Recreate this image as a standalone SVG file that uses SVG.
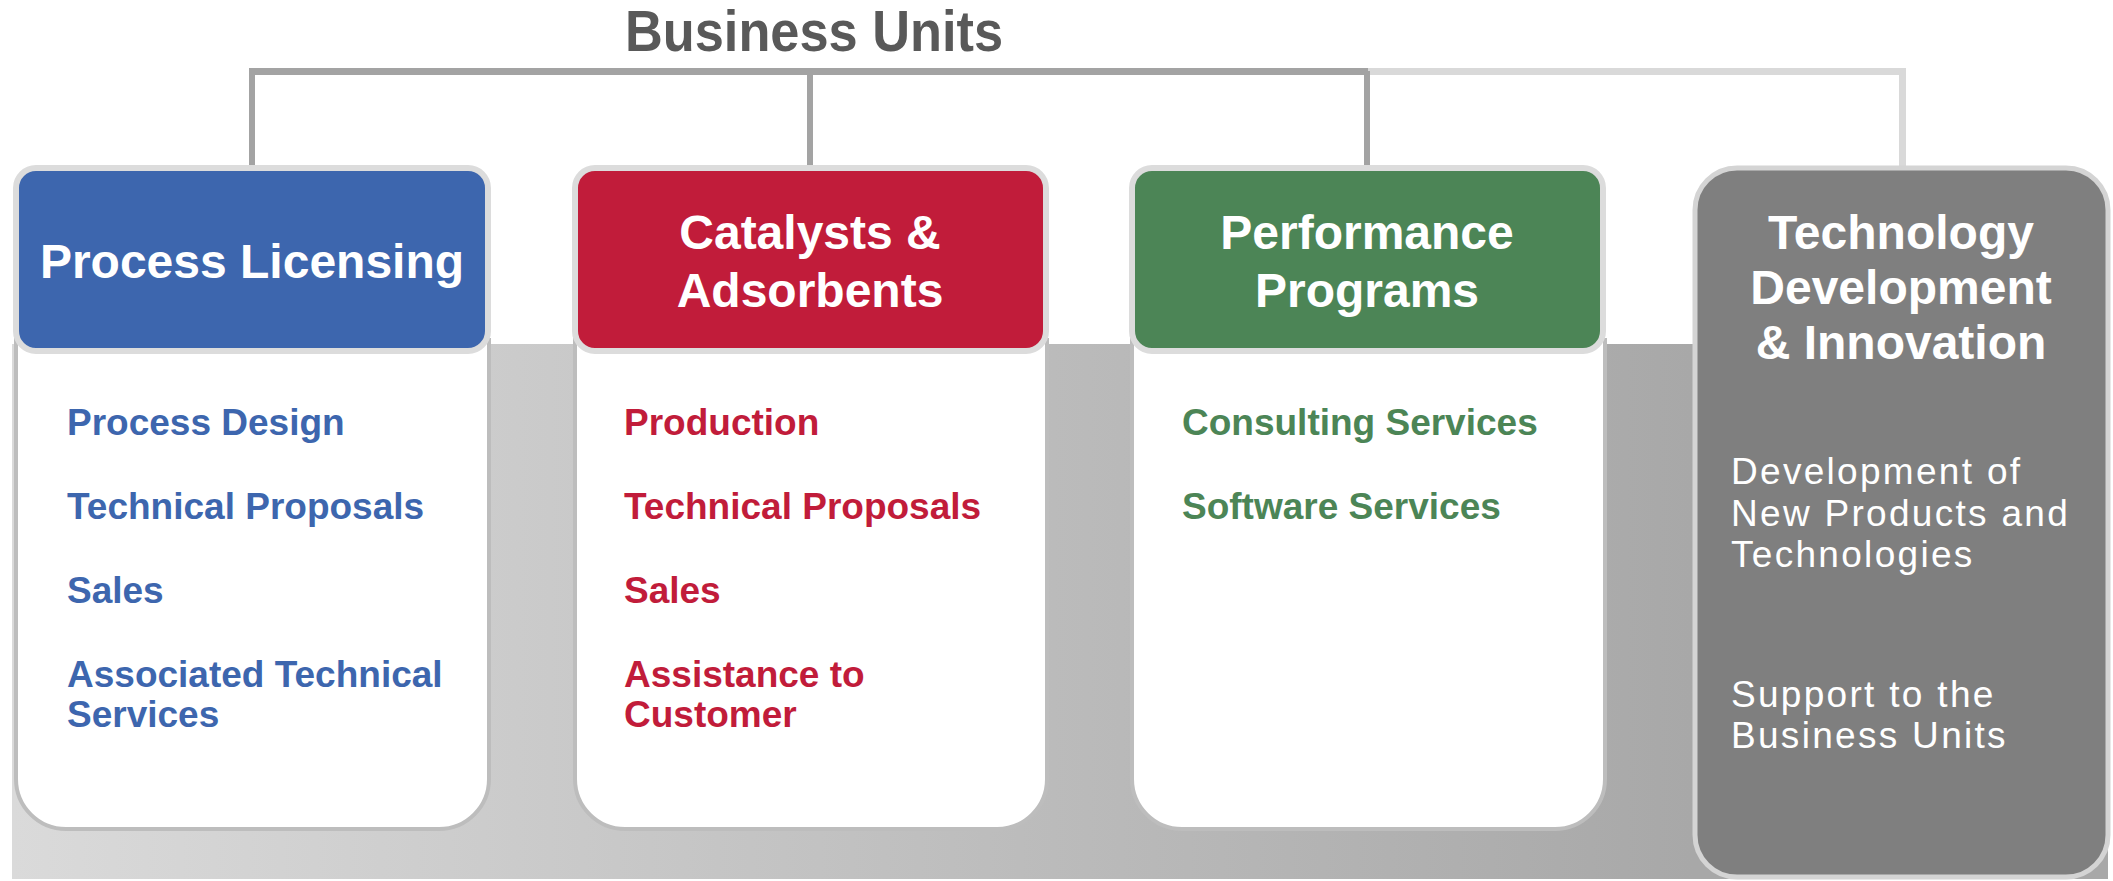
<svg xmlns="http://www.w3.org/2000/svg" width="2113" height="881" viewBox="0 0 2113 881">
<defs>
<linearGradient id="band" gradientUnits="userSpaceOnUse" x1="12" y1="0" x2="1692" y2="0">
<stop offset="0" stop-color="#dadada"/>
<stop offset="1" stop-color="#a8a8a8"/>
</linearGradient>
<style>
.title{font-family:"Liberation Sans",Arial,sans-serif;font-weight:bold;font-size:58px;fill:#595959;text-anchor:middle}
.hd{font-family:"Liberation Sans",Arial,sans-serif;font-weight:bold;font-size:48px;fill:#ffffff;text-anchor:middle}
.it{font-family:"Liberation Sans",Arial,sans-serif;font-weight:bold;font-size:37px}
.wt{font-family:"Liberation Sans",Arial,sans-serif;font-size:37px;fill:#ffffff;letter-spacing:2.3px}
.hbox{stroke:#dcdcdc;stroke-width:6}
.body{fill:#ffffff;stroke:#bdbdbd;stroke-width:4}
.conn{fill:none;stroke-linecap:butt;stroke-linejoin:miter}
.dark{stroke:#a3a3a3}
.light{stroke:#d9d9d9}
.blue{fill:#3d66ae}
.red{fill:#c11c3a}
.green{fill:#4c8556}
</style>
</defs>
<rect x="0" y="0" width="2113" height="881" fill="#ffffff"/>
<text class="title" x="814" y="51" textLength="378" lengthAdjust="spacingAndGlyphs">Business Units</text>
<g id="connectors">
<path class="conn light" d="M1368,71.5 H1902.5 V166" stroke-width="7"/>
<path class="conn dark" d="M252,71.5 H1368" stroke-width="7"/>
<path class="conn dark" d="M252,68 V166" stroke-width="6"/>
<path class="conn dark" d="M810,71 V166" stroke-width="6"/>
<path class="conn dark" d="M1367,71 V166" stroke-width="6"/>
</g>
<rect id="band-bg" x="12" y="344" width="2096" height="535" fill="url(#band)"/>
<g id="node-process-licensing">
<path class="body" d="M16,340 H489 V779 A50,50 0 0 1 439,829 H66 A50,50 0 0 1 16,779 Z"/>
<rect class="hbox" x="16" y="168" width="472" height="183" rx="20" fill="#3d66ae"/>
<text class="hd" x="252" y="278">Process Licensing</text>
<text class="it blue" x="67" y="435">Process Design</text>
<text class="it blue" x="67" y="519">Technical Proposals</text>
<text class="it blue" x="67" y="603">Sales</text>
<text class="it blue" x="67" y="687">Associated Technical</text>
<text class="it blue" x="67" y="727">Services</text>
</g>
<g id="node-catalysts">
<path class="body" d="M575,340 H1047 V779 A50,50 0 0 1 997,829 H625 A50,50 0 0 1 575,779 Z"/>
<rect class="hbox" x="575" y="168" width="471" height="183" rx="20" fill="#c11c3a"/>
<text class="hd" x="810" y="249">Catalysts &amp;</text>
<text class="hd" x="810" y="307">Adsorbents</text>
<text class="it red" x="624" y="435">Production</text>
<text class="it red" x="624" y="519">Technical Proposals</text>
<text class="it red" x="624" y="603">Sales</text>
<text class="it red" x="624" y="687">Assistance to</text>
<text class="it red" x="624" y="727">Customer</text>
</g>
<g id="node-performance">
<path class="body" d="M1132,340 H1605 V779 A50,50 0 0 1 1555,829 H1182 A50,50 0 0 1 1132,779 Z"/>
<rect class="hbox" x="1132" y="168" width="471" height="183" rx="20" fill="#4c8556"/>
<text class="hd" x="1367" y="249">Performance</text>
<text class="hd" x="1367" y="307">Programs</text>
<text class="it green" x="1182" y="435">Consulting Services</text>
<text class="it green" x="1182" y="519">Software Services</text>
</g>
<g id="node-technology">
<rect x="1695" y="168" width="413" height="709" rx="42" fill="#7f7f7f" stroke="#d4d4d4" stroke-width="5"/>
<text class="hd" x="1901" y="249">Technology</text>
<text class="hd" x="1901" y="304">Development</text>
<text class="hd" x="1901" y="359">&amp; Innovation</text>
<text class="wt" x="1731" y="484">Development of</text>
<text class="wt" x="1731" y="526">New Products and</text>
<text class="wt" x="1731" y="567">Technologies</text>
<text class="wt" x="1731" y="707">Support to the</text>
<text class="wt" x="1731" y="748">Business Units</text>
</g>
</svg>
